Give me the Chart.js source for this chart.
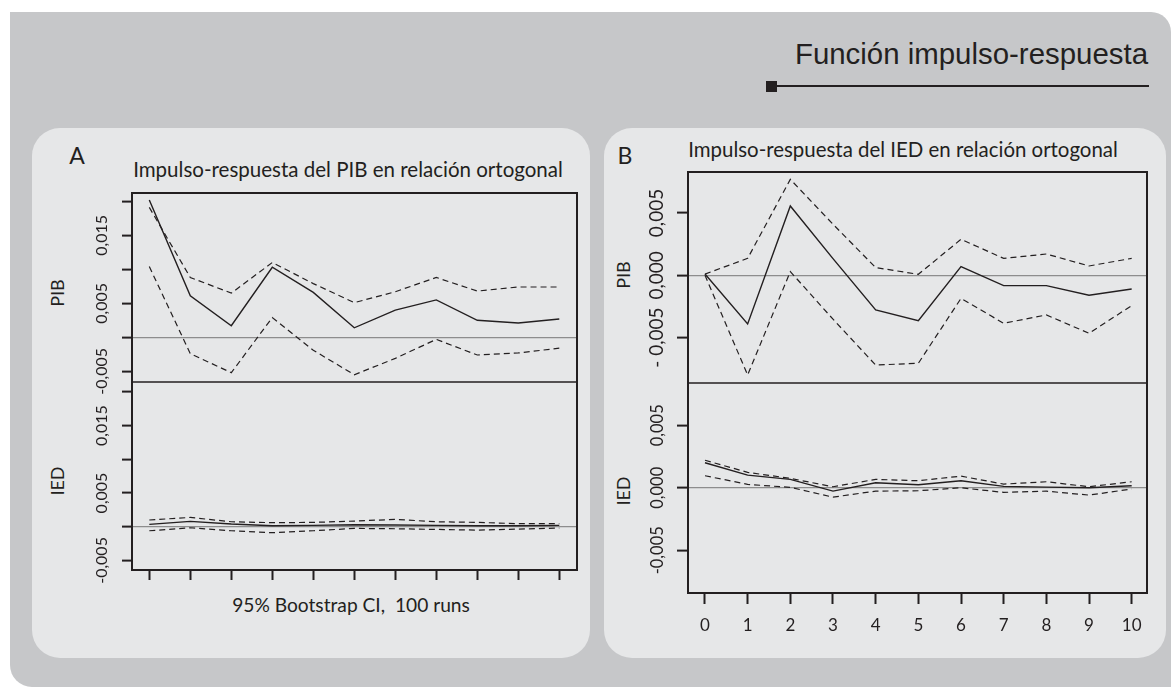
<!DOCTYPE html>
<html><head><meta charset="utf-8">
<script src="https://cdn.jsdelivr.net/npm/chart.js@4.4.1/dist/chart.umd.min.js"></script>
<style>
html,body{margin:0;padding:0;background:#fff;width:1171px;height:687px;overflow:hidden;position:relative;font-family:Lato,"Open Sans",sans-serif;color:#231f20}
#outer{position:absolute;left:10px;top:12px;width:1161px;height:675px;background:#c6c7c9;border-radius:0 20px 0 22px}
.panel{position:absolute;top:128px;height:530px;background:#e6e7e8;border-radius:28px}
.t{position:absolute;white-space:nowrap;line-height:1;transform:translate(-50%,-50%)}
.r{transform:translate(-50%,-50%) rotate(-90deg)}
canvas{position:absolute}
</style></head>
<body>
<div id="outer"></div>
<div class="panel" style="left:32px;width:558px"></div>
<div class="panel" style="left:604px;width:562px"></div>

<div id="mt" data-w="353" style="position:absolute;white-space:nowrap;line-height:1;right:23px;top:54px;transform:translateY(-50%);font-family:'Liberation Sans',Arimo,sans-serif;font-size:29px;color:#231f20">Función impulso-respuesta</div>
<div style="position:absolute;left:766px;top:81px;width:11px;height:11px;background:#231f20"></div>
<div style="position:absolute;left:776px;top:85px;width:373px;height:2px;background:#231f20"></div>

<div class="t" style="left:77px;top:155px;font-size:23px">A</div>
<div class="t" data-w="430" style="left:348px;top:169px;font-size:19px">Impulso-respuesta del PIB en relación ortogonal</div>
<div class="t" style="left:625px;top:155px;font-size:23px">B</div>
<div class="t" data-w="430" style="left:903px;top:149px;font-size:19px">Impulso-respuesta del IED en relación ortogonal</div>
<div class="t r" style="left:57px;top:293px;font-size:18px">PIB</div>
<div class="t r" style="left:57px;top:481px;font-size:18px">IED</div>
<div class="t r" style="left:623px;top:275px;font-size:18px">PIB</div>
<div class="t r" style="left:623px;top:491px;font-size:18px">IED</div>
<div class="t" data-w="238" style="left:351px;top:605px;font-size:17px">95% Bootstrap CI,&nbsp; 100 runs</div>

<script>
// ---------------- DATA ----------------
const steps = [0, 1, 2, 3, 4, 5, 6, 7, 8, 9, 10];

// Panel A: shock in PIB
const pibA_irf   = [0.0202, 0.0061, 0.0017, 0.0103, 0.0066, 0.0014, 0.0040, 0.0055, 0.0025, 0.0021, 0.0027];
const pibA_upper = [0.0191, 0.0088, 0.0065, 0.0110, 0.0079, 0.0051, 0.0067, 0.0088, 0.0068, 0.0074, 0.0074];
const pibA_lower = [0.0104, -0.0024, -0.0052, 0.0029, -0.0019, -0.0055, -0.0031, -0.0003, -0.0026, -0.0023, -0.0016];
const iedA_irf   = [0.00035, 0.00079, 0.0004, 0.00015, 0.0002, 0.0003, 0.00025, 0.0002, 0.00015, 0.00015, 0.0002];
const iedA_upper = [0.0010, 0.00138, 0.00074, 0.0006, 0.00064, 0.00084, 0.00109, 0.00074, 0.00064, 0.00045, 0.00045];
const iedA_lower = [-0.0006, -0.00015, -0.0006, -0.00089, -0.0006, -0.00025, -0.0003, -0.0004, -0.0005, -0.00035, -0.0002];

// Panel B: shock in IED
const pibB_irf   = [0.0001, -0.0039, 0.00556, 0.00134, -0.00278, -0.00364, 0.0007, -0.00083, -0.00083, -0.0016, -0.0011];
const pibB_upper = [0.0001, 0.00136, 0.0077, 0.0041, 0.00062, 0.00008, 0.00289, 0.00136, 0.00171, 0.00075, 0.00136];
const pibB_lower = [0.0, -0.0080, 0.0003, -0.00352, -0.0072, -0.00706, -0.00185, -0.00385, -0.00318, -0.00465, -0.00243];
const iedB_irf   = [0.0020, 0.00101, 0.00067, -0.00027, 0.0004, 0.00024, 0.00056, 0.00011, 0.00005, 0.0, 0.00016];
const iedB_upper = [0.0022, 0.00123, 0.00075, 0.00008, 0.00067, 0.00056, 0.00093, 0.00029, 0.00048, 0.00008, 0.00048];
const iedB_lower = [0.00096, 0.00027, 0.00003, -0.00075, -0.00027, -0.00024, 0.0, -0.00037, -0.00027, -0.00059, -0.0001];

// Tick values / labels
const yTickValsA = [-0.005, 0, 0.005, 0.010, 0.015, 0.020];
const yTickLblsA = ['-0,005', '', '0,005', '', '0,015', ''];
const yTickValsB = [-0.005, 0, 0.005];
const yTickLblsBtop = ['- 0,005', '0,000', '0,005'];
const yTickLblsBbot = ['-0,005', '0,000', '0,005'];
const xTickLblsB = ['0', '1', '2', '3', '4', '5', '6', '7', '8', '9', '10'];

// ---------------- TEXT FITTING ----------------
document.querySelectorAll('[data-w]').forEach(el => {
  const fs = parseFloat(getComputedStyle(el).fontSize);
  el.style.fontSize = (fs * parseFloat(el.dataset.w) / el.offsetWidth).toFixed(2) + 'px';
});

// ---------------- CHARTS ----------------
const INK = '#231f20';
Chart.defaults.font.family = 'Lato';
Chart.defaults.color = INK;

const mctx = document.createElement('canvas').getContext('2d');
function textW(s, size) { mctx.font = size + 'px Lato'; return mctx.measureText(s).width; }

const framePlugin = {
  id: 'frame',
  afterDraw(chart, args, opts) {
    const {ctx, chartArea: a} = chart;
    ctx.save();
    ctx.strokeStyle = INK;
    ctx.lineCap = 'square';
    ctx.lineWidth = 2;
    ctx.beginPath();
    ctx.moveTo(a.left, a.top); ctx.lineTo(a.left, a.bottom);
    ctx.moveTo(a.right, a.top); ctx.lineTo(a.right, a.bottom);
    if (opts.top) { ctx.moveTo(a.left, a.top); ctx.lineTo(a.right, a.top); }
    if (opts.bottom) { ctx.moveTo(a.left, a.bottom); ctx.lineTo(a.right, a.bottom); }
    ctx.stroke();
    if (opts.sep) {
      ctx.lineWidth = 1.5; ctx.lineCap = 'butt';
      ctx.beginPath(); ctx.moveTo(a.left, a.top); ctx.lineTo(a.right, a.top); ctx.stroke();
    }
    ctx.restore();
  }
};

function lineDS(arr, dashed) {
  return {
    data: steps.map((s, i) => ({x: s, y: arr[i]})),
    borderColor: INK, borderWidth: dashed ? 1.2 : 1.4,
    borderDash: dashed ? [6, 4] : [],
    pointRadius: 0, tension: 0, fill: false
  };
}

function subplot(o) {
  const padT = 30, padR = 6, padB = 30, yW = 110;
  const xH = o.xAxis ? o.xAxis.height : 0;
  const W = yW + (o.r - o.l) + padR;
  const H = padT + (o.b - o.t) + xH + padB;
  const cv = document.createElement('canvas');
  cv.width = W; cv.height = H;
  cv.style.left = (o.l - yW) + 'px'; cv.style.top = (o.t - padT) + 'px';
  cv.style.width = W + 'px'; cv.style.height = H + 'px';
  document.body.appendChild(cv);
  const widest = Math.max(...o.yLabels.map(s => textW(s, o.yFont)));
  const ypad = o.yGap - widest / 2;

  const xScale = o.xAxis ? {
    type: 'linear', min: o.xMin, max: o.xMax, bounds: 'data',
    afterBuildTicks: s => { s.ticks = steps.map(v => ({value: v})); },
    afterFit: s => { s.height = xH; s.paddingLeft = 0; s.paddingRight = 0; },
    border: {display: false},
    grid: {drawOnChartArea: false, drawTicks: true, tickLength: o.xAxis.tl, tickColor: INK, tickWidth: 2, color: INK},
    ticks: {display: !!o.xAxis.labels, autoSkip: false, minRotation: 0, maxRotation: 0,
      padding: o.xAxis.pad, font: {size: o.xAxis.font}, color: INK,
      callback: (v, i) => o.xAxis.labels ? o.xAxis.labels[i] : ''}
  } : {type: 'linear', min: o.xMin, max: o.xMax, bounds: 'data', display: false};

  const chart = new Chart(cv, {
    type: 'line',
    data: {datasets: [lineDS(o.mid, false), lineDS(o.up, true), lineDS(o.lo, true)]},
    options: {
      responsive: false, maintainAspectRatio: false, animation: false,
      layout: {padding: {top: padT, right: padR, bottom: padB, left: 0}},
      plugins: {legend: {display: false}, tooltip: {enabled: false}, frame: o.frame},
      scales: {
        x: xScale,
        y: {
          type: 'linear', min: o.yMin, max: o.yMax, bounds: 'data',
          afterBuildTicks: s => { s.ticks = o.yVals.map(v => ({value: v})); },
          afterFit: s => { s.width = yW; s.paddingTop = 0; s.paddingBottom = 0; },
          border: {display: false},
          grid: {drawOnChartArea: true, drawTicks: true, tickLength: o.tl, tickColor: INK, tickWidth: 2,
            lineWidth: 1.2, color: c => Math.abs(c.tick.value) < 1e-12 ? '#8d8d8d' : 'rgba(0,0,0,0)'},
          ticks: {autoSkip: false, minRotation: 90, maxRotation: 90, crossAlign: 'center',
            padding: ypad, font: {size: o.yFont}, color: INK,
            callback: (v, i) => o.yLabels[i]}
        }
      }
    },
    plugins: [framePlugin]
  });
  const ca = chart.chartArea;
  cv.style.left = (o.l - ca.left) + 'px';
  cv.style.top = (o.t - ca.top) + 'px';
  return chart;
}

// Panel A
subplot({l: 132, r: 577, t: 193, b: 382, xMin: -0.422, xMax: 10.432, yMin: -0.00657, yMax: 0.02122,
  mid: pibA_irf, up: pibA_upper, lo: pibA_lower, yVals: yTickValsA, yLabels: yTickLblsA,
  yFont: 16, tl: 10, yGap: 20.3, frame: {top: true}});
subplot({l: 132, r: 577, t: 382, b: 570, xMin: -0.422, xMax: 10.432, yMin: -0.00642, yMax: 0.02147,
  mid: iedA_irf, up: iedA_upper, lo: iedA_lower, yVals: yTickValsA, yLabels: yTickLblsA,
  yFont: 16, tl: 10, yGap: 20.3, frame: {bottom: true, sep: true},
  xAxis: {height: 12, tl: 10, labels: null, pad: 0, font: 16}});

// Panel B
subplot({l: 688, r: 1147, t: 172, b: 383, xMin: -0.398, xMax: 10.359, yMin: -0.00864, yMax: 0.00829,
  mid: pibB_irf, up: pibB_upper, lo: pibB_lower, yVals: yTickValsB, yLabels: yTickLblsBtop,
  yFont: 19, tl: 11, yGap: 20.3, frame: {top: true}});
subplot({l: 688, r: 1147, t: 383, b: 593, xMin: -0.398, xMax: 10.359, yMin: -0.00842, yMax: 0.00838,
  mid: iedB_irf, up: iedB_upper, lo: iedB_lower, yVals: yTickValsB, yLabels: yTickLblsBbot,
  yFont: 16.5, tl: 11, yGap: 19, frame: {bottom: true, sep: true},
  xAxis: {height: 44, tl: 11, labels: xTickLblsB, pad: 11, font: 17}});
</script>
</body></html>
